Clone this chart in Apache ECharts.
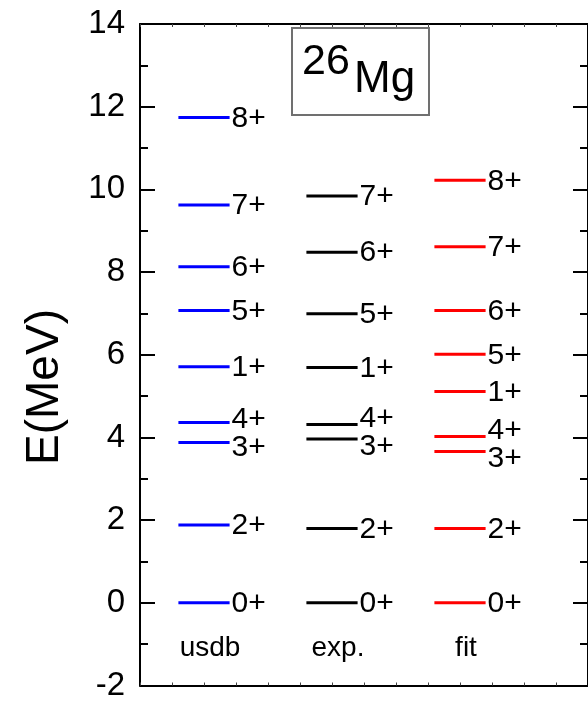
<!DOCTYPE html>
<html><head><meta charset="utf-8">
<script src="https://cdn.jsdelivr.net/npm/echarts@6/dist/echarts.min.js"></script>
<style>html,body{margin:0;padding:0;background:#fff}#c{width:588px;height:702px}</style>
</head><body><div id="c"></div>
<script>
// ---- data ----
const models = ['usdb', 'exp.', 'fit'];
const modelX = [2, 6, 10];
const modelColors = ['#0000ff', '#000000', '#ff0000'];
const usdbSpins = ['0+', '2+', '3+', '4+', '1+', '5+', '6+', '7+', '8+'];
const usdbE = [0, 1.88, 3.88, 4.36, 5.71, 7.07, 8.13, 9.62, 11.74];
const expSpins = ['0+', '2+', '3+', '4+', '1+', '5+', '6+', '7+'];
const expE = [0, 1.80, 3.96, 4.31, 5.69, 6.99, 8.48, 9.84];
const fitSpins = ['0+', '2+', '3+', '4+', '1+', '5+', '6+', '7+', '8+'];
const fitE = [0, 1.80, 3.66, 4.02, 5.11, 6.01, 7.07, 8.61, 10.22];
const categoryLabelE = -1;
const nucleusMass = '26';
const nucleusSymbol = 'Mg';
const yAxisTitle = 'E(MeV)';

// ---- layout / style ----
const FONT = '"Liberation Sans", Arial, sans-serif';
const HALF = 0.8;       // half level width in x units
const MIN_SEP = 28;     // min label separation in px

const chart = echarts.init(document.getElementById('c'), null, { renderer: 'canvas' });

function levelSeries(energies, spins, color, xc) {
  const sorted = energies.slice().sort((a, b) => a - b);
  return {
    type: 'custom',
    coordinateSystem: 'cartesian2d',
    data: energies.map(e => [xc, e]),
    encode: { x: 0, y: 1 },
    clip: false,
    renderItem: function (params, api) {
      const x = api.value(0), e = api.value(1);
      const p1 = api.coord([x - HALF, e]);
      const p2 = api.coord([x + HALF, e]);
      const pxPer = api.size([0, 1])[1];
      const i = sorted.indexOf(e);
      let up = 0; // pixels to move label upward
      if (i > 0) { const g = (e - sorted[i - 1]) * pxPer; if (g < MIN_SEP) up += (MIN_SEP - g) / 2; }
      if (i < sorted.length - 1) { const g = (sorted[i + 1] - e) * pxPer; if (g < MIN_SEP) up -= (MIN_SEP - g) / 2; }
      return {
        type: 'group',
        children: [
          { type: 'line', shape: { x1: p1[0], y1: p1[1], x2: p2[0], y2: p2[1] },
            style: { stroke: color, lineWidth: 3 } },
          { type: 'text', x: p2[0] + 2, y: p1[1] - up + 1,
            style: { text: spins[params.dataIndex], font: '30px ' + FONT, fill: '#000',
                     align: 'left', verticalAlign: 'middle' } }
        ]
      };
    }
  };
}

const catSeries = {
  type: 'custom',
  coordinateSystem: 'cartesian2d',
  data: modelX.map(x => [x, categoryLabelE]),
  encode: { x: 0, y: 1 },
  clip: false,
  renderItem: function (params, api) {
    const p = api.coord([api.value(0), api.value(1)]);
    return { type: 'text', x: p[0] + 6, y: p[1] + 4,
      style: { text: models[params.dataIndex], font: '28px ' + FONT, fill: '#000',
               align: 'center', verticalAlign: 'middle' } };
  }
};

const xAxisBase = {
  type: 'value', min: 0, max: 14, interval: 1,
  axisLine: { show: true, onZero: false, lineStyle: { color: '#000', width: 2 } },
  axisTick: { show: true, inside: true, length: 3, lineStyle: { color: '#444', width: 1 } },
  axisLabel: { show: false },
  splitLine: { show: false }
};
const yAxisBase = {
  type: 'value', min: -2, max: 14, interval: 2,
  axisLine: { show: true, onZero: false, lineStyle: { color: '#000', width: 2 } },
  axisTick: { show: true, inside: true, length: 15, lineStyle: { color: '#000', width: 2 } },
  minorTick: { show: true, splitNumber: 2, length: 8, lineStyle: { color: '#000', width: 2 } },
  splitLine: { show: false }
};

chart.setOption({
  animation: false,
  backgroundColor: '#fff',
  grid: { left: 140, top: 24, width: 453, height: 666, containLabel: false },
  xAxis: [
    Object.assign({}, xAxisBase, { position: 'bottom' }),
    Object.assign({}, xAxisBase, { position: 'top' })
  ],
  yAxis: [
    Object.assign({}, yAxisBase, { position: 'left',
      axisLabel: { show: true, fontSize: 33, fontFamily: FONT, color: '#000', margin: 15 } }),
    Object.assign({}, yAxisBase, { position: 'right', axisLabel: { show: false } })
  ],
  graphic: [
    { type: 'text', x: 45, y: 387, rotation: Math.PI / 2,
      style: { text: yAxisTitle, font: '46px ' + FONT, fill: '#000', align: 'center', verticalAlign: 'middle' } },
    { type: 'rect', shape: { x: 292, y: 28, width: 137, height: 87 },
      style: { fill: '#fff', stroke: '#707070', lineWidth: 2 } },
    { type: 'text', x: 302, y: 62,
      style: { text: nucleusMass, font: '43px ' + FONT, fill: '#000', align: 'left', verticalAlign: 'middle' } },
    { type: 'text', x: 354, y: 80,
      style: { text: nucleusSymbol, font: '44px ' + FONT, fill: '#000', align: 'left', verticalAlign: 'middle' } }
  ],
  series: [
    levelSeries(usdbE, usdbSpins, modelColors[0], modelX[0]),
    levelSeries(expE, expSpins, modelColors[1], modelX[1]),
    levelSeries(fitE, fitSpins, modelColors[2], modelX[2]),
    catSeries
  ]
});
</script>
</body></html>
